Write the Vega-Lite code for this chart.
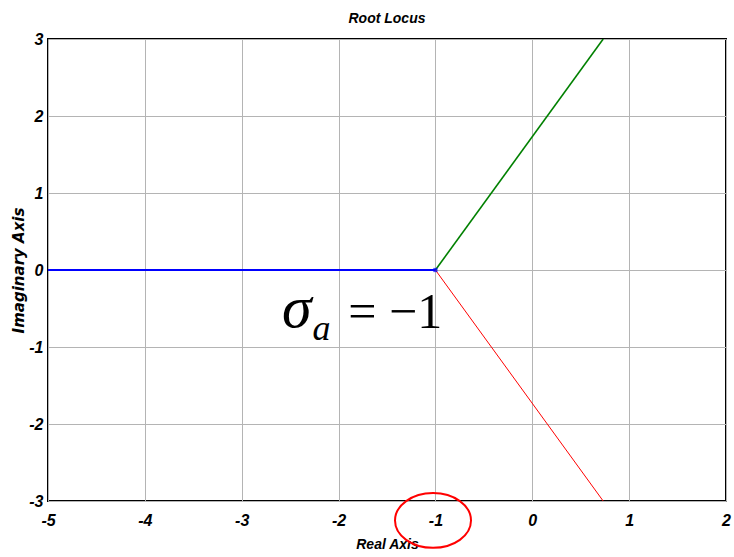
{
  "$schema": "https://vega.github.io/schema/vega-lite/v6.json",
  "width": 678,
  "height": 462,
  "autosize": "none",
  "padding": {"left": 48, "top": 39, "right": 8, "bottom": 56},
  "background": "white",
  "title": {
    "text": "Root Locus",
    "font": "Liberation Sans",
    "fontSize": 14,
    "fontWeight": "bold",
    "fontStyle": "italic",
    "color": "black",
    "anchor": "middle",
    "offset": 5
  },
  "config": {
    "view": {"stroke": "black", "strokeWidth": 2},
    "axis": {
      "labelFont": "Liberation Sans",
      "labelFontSize": 16,
      "labelFontWeight": "bold",
      "labelFontStyle": "italic",
      "labelColor": "black",
      "titleColor": "black",
      "titleFontWeight": "bold",
      "titleFontStyle": "italic",
      "gridColor": "#b4b4b4",
      "gridWidth": 1,
      "gridOpacity": 1,
      "domain": false,
      "ticks": false
    }
  },
  "datasets": {
    "branches": [
      {"branch": "b1", "x": -5, "y": 0},
      {"branch": "b1", "x": -1, "y": 0},
      {"branch": "b2", "x": -1, "y": 0},
      {"branch": "b2", "x": 0.732, "y": 3},
      {"branch": "b3", "x": -1, "y": 0},
      {"branch": "b3", "x": 0.732, "y": -3}
    ]
  },
  "layer": [
    {
      "data": {"name": "branches"},
      "mark": {"type": "line", "clip": true},
      "encoding": {
        "x": {
          "field": "x",
          "type": "quantitative",
          "scale": {"domain": [-5, 2], "nice": false, "zero": false},
          "axis": {
            "values": [-5, -4, -3, -2, -1, 0, 1, 2],
            "format": "d",
            "labelExpr": "replace(datum.label, '−', '-')",
            "labelPadding": 11,
            "labelFlush": false,
            "title": "Real Axis",
            "titleFont": "Liberation Sans",
            "titleFontSize": 14,
            "titlePadding": 9
          }
        },
        "y": {
          "field": "y",
          "type": "quantitative",
          "scale": {"domain": [-3, 3], "nice": false, "zero": false},
          "axis": {
            "values": [-3, -2, -1, 0, 1, 2, 3],
            "format": "d",
            "labelExpr": "replace(datum.label, '−', '-')",
            "labelPadding": 5,
            "labelFlush": false,
            "title": "Imaginary Axis",
            "titleFont": "DejaVu Sans",
            "titleFontSize": 15,
            "titlePadding": 2
          }
        },
        "color": {
          "field": "branch",
          "type": "nominal",
          "scale": {"domain": ["b1", "b2", "b3"], "range": ["#0000ff", "#008000", "#ff0000"]},
          "legend": null
        },
        "strokeWidth": {
          "field": "branch",
          "type": "nominal",
          "scale": {"domain": ["b1", "b2", "b3"], "range": [2.2, 1, 1]},
          "legend": null
        },
        "detail": {"field": "branch"}
      }
    },
    {
      "data": {"values": [{"x": -1, "y": 0}]},
      "mark": {"type": "point", "shape": "square", "filled": true, "color": "#0000ff", "size": 18},
      "encoding": {
        "x": {"field": "x", "type": "quantitative"},
        "y": {"field": "y", "type": "quantitative"}
      }
    },
    {
      "data": {"values": [{"x": -2.584, "y": -0.74, "t": "σ"}]},
      "mark": {"type": "text", "font": "Liberation Serif", "fontStyle": "italic", "fontSize": 60, "align": "left", "baseline": "alphabetic", "color": "black"},
      "encoding": {
        "x": {"field": "x", "type": "quantitative"},
        "y": {"field": "y", "type": "quantitative"},
        "text": {"field": "t"}
      }
    },
    {
      "data": {"values": [{"x": -2.27, "y": -0.91, "t": "a"}]},
      "mark": {"type": "text", "font": "Liberation Serif", "fontStyle": "italic", "fontSize": 36, "align": "left", "baseline": "alphabetic", "color": "black"},
      "encoding": {
        "x": {"field": "x", "type": "quantitative"},
        "y": {"field": "y", "type": "quantitative"},
        "text": {"field": "t"}
      }
    },
    {
      "data": {"values": [{"x": -1.9, "y": -0.753, "t": "= −1"}]},
      "mark": {"type": "text", "font": "Liberation Serif", "fontSize": 50, "align": "left", "baseline": "alphabetic", "color": "black"},
      "encoding": {
        "x": {"field": "x", "type": "quantitative"},
        "y": {"field": "y", "type": "quantitative"},
        "text": {"field": "t"}
      }
    },
    {
      "data": {"values": [{"x": -1.025, "y": -3.253}]},
      "mark": {
        "type": "point",
        "shape": "M-1,0A1,0.72,0,1,1,1,0A1,0.72,0,1,1,-1,0Z",
        "filled": false,
        "stroke": "#ff0000",
        "strokeWidth": 2,
        "opacity": 1,
        "size": 5776,
        "clip": false
      },
      "encoding": {
        "x": {"field": "x", "type": "quantitative"},
        "y": {"field": "y", "type": "quantitative"}
      }
    }
  ]
}
